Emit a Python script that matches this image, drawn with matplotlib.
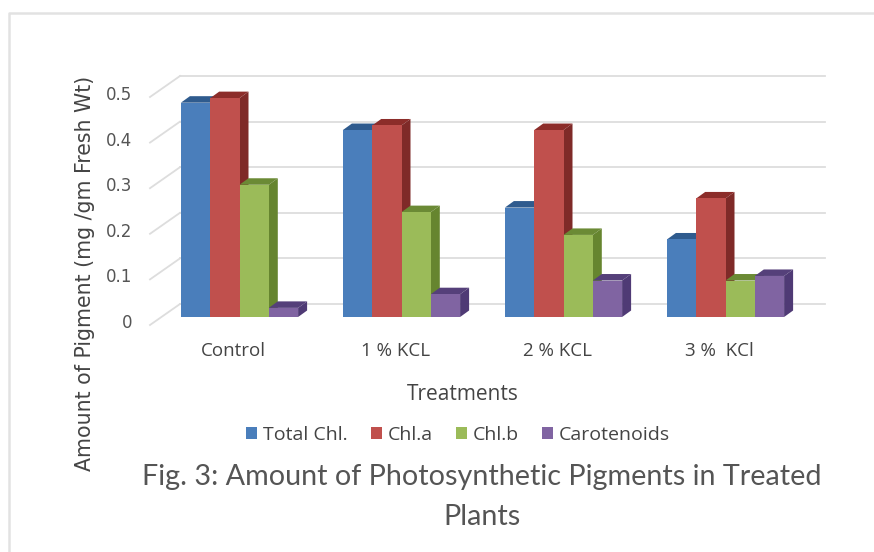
import numpy as np
import matplotlib
matplotlib.use('Agg')
import matplotlib.pyplot as plt
from matplotlib.lines import Line2D
from matplotlib.patches import Polygon
from matplotlib.transforms import ScaledTranslation

treatments = ['Control', '1 % KCL', '2 % KCL', '3 %  KCl']
total_chl = [0.47, 0.41, 0.24, 0.17]
chl_a = [0.48, 0.42, 0.41, 0.26]
chl_b = [0.29, 0.23, 0.18, 0.08]
carotenoids = [0.02, 0.05, 0.08, 0.09]
y_ticks = [0, 0.1, 0.2, 0.3, 0.4, 0.5]
y_tick_labels = ['0', '0.1', '0.2', '0.3', '0.4', '0.5']

series = [
    ('Total Chl.', total_chl, '#4A7EBB', '#2F5B8E', '#31608F'),
    ('Chl.a', chl_a, '#C0504D', '#8C2D2A', '#7F2A28'),
    ('Chl.b', chl_b, '#9BBB59', '#6B8A35', '#66852F'),
    ('Carotenoids', carotenoids, '#8064A2', '#55407A', '#4F3A75'),
]

W, H = 874, 552
fig = plt.figure(figsize=(W / 100, H / 100), dpi=100, facecolor='white')

# chart frame, only top and left edges show in the crop
fig.add_artist(Line2D([9 / W, 9 / W, 1], [0, 1 - 13 / H, 1 - 13 / H], transform=fig.transFigure,
                      color='#e2e2e2', linewidth=1.8))

# axes: y=0 at pixel 317, y=0.5 at pixel 89
left, right, bottom, top = 150, 825, 317, 89
ax = fig.add_axes([left / W, 1 - bottom / H, (right - left) / W, (bottom - top) / H])
group_step = 162.0
ax.set_xlim(-(239.5 - left) / group_step, (right - 239.5) / group_step)
ax.set_ylim(0, 0.5)
ax.patch.set_alpha(0)
for s in ax.spines.values():
    s.set_visible(False)

px_x = 1 / group_step
px_y = 0.5 / (bottom - top)

# back wall gridlines and the slanted side wall lines
x_start = ax.get_xlim()[0]
x_end = ax.get_xlim()[1]
for v in y_ticks:
    wall_y = v + 13 * px_y
    ax.plot([x_start + 30 * px_x, x_end], [wall_y, wall_y], color='#dddddd', lw=1.3,
            clip_on=False, zorder=1)
    ax.plot([x_start, x_start + 30 * px_x], [v - 8 * px_y, wall_y], color='#dddddd', lw=1.3,
            clip_on=False, zorder=1)

# bars with fake depth, left to right so the next front face hides the side
bar_w = 29.3 * px_x
depth_x = 9 * px_x
depth_y = 6.5 * px_y
x = np.arange(len(treatments))
z = 2
for g in x:
    for i, (name, values, front, top_col, side_col) in enumerate(series):
        x0 = g - 2 * bar_w + i * bar_w
        val = values[g]
        ax.add_patch(Polygon([(x0, val), (x0 + depth_x, val + depth_y),
                              (x0 + bar_w + depth_x, val + depth_y), (x0 + bar_w, val)],
                             facecolor=top_col, edgecolor='none', clip_on=False, zorder=z))
        ax.add_patch(Polygon([(x0 + bar_w, 0), (x0 + bar_w + depth_x, depth_y),
                              (x0 + bar_w + depth_x, val + depth_y), (x0 + bar_w, val)],
                             facecolor=side_col, edgecolor='none', clip_on=False, zorder=z))
        ax.bar(x0, val, width=bar_w, align='edge', color=front, zorder=z + 0.5, clip_on=False,
               label=name if g == 0 else None)
        z += 1

# category labels sit a little left of the group centres
ax.set_xticks(x - 6 * px_x)
ax.set_xticklabels(treatments, family='Open Sans', fontsize=13.5, color='#444444')
ax.set_yticks(y_ticks)
ax.set_yticklabels(y_tick_labels, family='DejaVu Sans', fontsize=12, color='#555555')
ax.tick_params(axis='both', length=0)
ax.tick_params(axis='x', pad=18)
ax.tick_params(axis='y', pad=13)
shift = ScaledTranslation(0, -4 / 100, fig.dpi_scale_trans)
for lab in ax.get_yticklabels():
    lab.set_transform(lab.get_transform() + shift)

fig.text(463 / W, 1 - 395 / H, 'Treatments', family='Open Sans', fontsize=15, color='#444444',
         ha='center', va='center')
fig.text(85 / W, 1 - 273 / H, 'Amount of Pigment (mg /gm Fresh Wt)', family='DejaVu Sans',
         fontsize=14.8, color='#444444', rotation=90, ha='center', va='center')
fig.text(482 / W, 1 - 477 / H, 'Fig. 3: Amount of Photosynthetic Pigments in Treated',
         family='Lato', fontsize=20.7, color='#555555', ha='center', va='center')
fig.text(482 / W, 1 - 517 / H, 'Plants', family='Lato', fontsize=20.7, color='#555555',
         ha='center', va='center')

handles, labels = ax.get_legend_handles_labels()
leg = fig.legend(handles, labels, loc='center', bbox_to_anchor=(458 / W, 1 - 435 / H), ncol=4,
                 frameon=False, handlelength=0.55, handleheight=0.55,
                 handletextpad=0.3, columnspacing=1.2, labelcolor='#444444',
                 prop={'family': 'Open Sans', 'size': 14})

fig.savefig('out.png', dpi=100, facecolor='white')
